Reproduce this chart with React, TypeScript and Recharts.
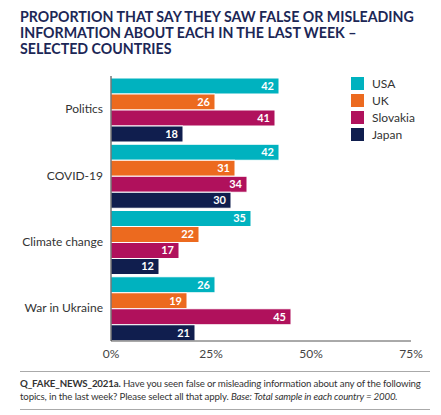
import { BarChart, Bar, XAxis, YAxis, LabelList } from 'recharts'

const topics = ['Politics', 'COVID-19', 'Climate change', 'War in Ukraine']
const usa = [42, 42, 35, 26]
const uk = [26, 31, 22, 19]
const slovakia = [41, 34, 17, 45]
const japan = [18, 30, 12, 21]
const xTicks = [0, 25, 50, 75]

const countries = [
  { key: 'usa', name: 'USA', color: '#00b2bf' },
  { key: 'uk', name: 'UK', color: '#ec6a1f' },
  { key: 'slovakia', name: 'Slovakia', color: '#b0115c' },
  { key: 'japan', name: 'Japan', color: '#101e4e' },
]

const data = topics.map((topic, i) => ({
  topic,
  usa: usa[i],
  uk: uk[i],
  slovakia: slovakia[i],
  japan: japan[i],
}))

const FONT = 'Lato, "Open Sans", sans-serif'

function LegendBox() {
  return (
    <div style={{ position: 'absolute', left: 351, top: 75, fontSize: 12, color: '#333' }}>
      {countries.map((c) => (
        <div key={c.key} style={{ display: 'flex', alignItems: 'center', height: 17 }}>
          <span style={{ width: 13, height: 13, background: c.color, display: 'inline-block', marginRight: 8 }} />
          {c.name}
        </div>
      ))}
    </div>
  )
}

export default function App() {
  return (
    <div style={{ position: 'absolute', left: 0, top: 0, width: 441, height: 415, background: '#fff', fontFamily: FONT }}>
      <div
        style={{
          position: 'absolute',
          left: 20,
          top: 9,
          width: 421,
          fontSize: 14.2,
          lineHeight: '16px',
          fontWeight: 700,
          color: '#1c2756',
          whiteSpace: 'nowrap',
        }}
      >
        PROPORTION THAT SAY THEY SAW FALSE OR MISLEADING
        <br />
        INFORMATION ABOUT EACH IN THE LAST WEEK –
        <br />
        SELECTED COUNTRIES
      </div>

      <div style={{ position: 'absolute', left: 0, top: 0 }}>
        <BarChart
          width={441}
          height={365}
          data={data}
          layout="vertical"
          margin={{ top: 76, right: 30, bottom: 0, left: 0 }}
          barCategoryGap={2}
          barGap={0}
        >
          <XAxis
            type="number"
            domain={[0, 75]}
            ticks={xTicks}
            tickFormatter={(v) => `${v}%`}
            tickLine={false}
            axisLine={{ stroke: '#555' }}
            tick={{ fill: '#444', fontSize: 12 }}
            height={24}
          />
          <YAxis
            type="category"
            dataKey="topic"
            width={111}
            tickLine={false}
            axisLine={{ stroke: '#333' }}
            tick={{ fill: '#333', fontSize: 12 }}
          />
          {countries.map((c) => (
            <Bar
              key={c.key}
              dataKey={c.key}
              name={c.name}
              fill={c.color}
              stroke="#fff"
              strokeWidth={1}
              isAnimationActive={false}
            >
              <LabelList dataKey={c.key} position="insideRight" fill="#fff" fontSize={11} fontWeight={700} />
            </Bar>
          ))}
        </BarChart>
      </div>

      <LegendBox />

      <div style={{ position: 'absolute', left: 20, top: 371, width: 410, borderTop: '1px solid #aaa' }} />
      <div
        style={{
          position: 'absolute',
          left: 20,
          top: 377,
          fontSize: 9.7,
          lineHeight: '12.5px',
          color: '#333',
          whiteSpace: 'nowrap',
          letterSpacing: -0.15,
        }}
      >
        <b>Q_FAKE_NEWS_2021a.</b> Have you seen false or misleading information about any of the following
        <br />
        topics, in the last week? Please select all that apply. <i>Base: Total sample in each country = 2000.</i>
      </div>
      <div style={{ position: 'absolute', left: 20, top: 409, width: 410, borderTop: '1px solid #aaa' }} />
    </div>
  )
}
